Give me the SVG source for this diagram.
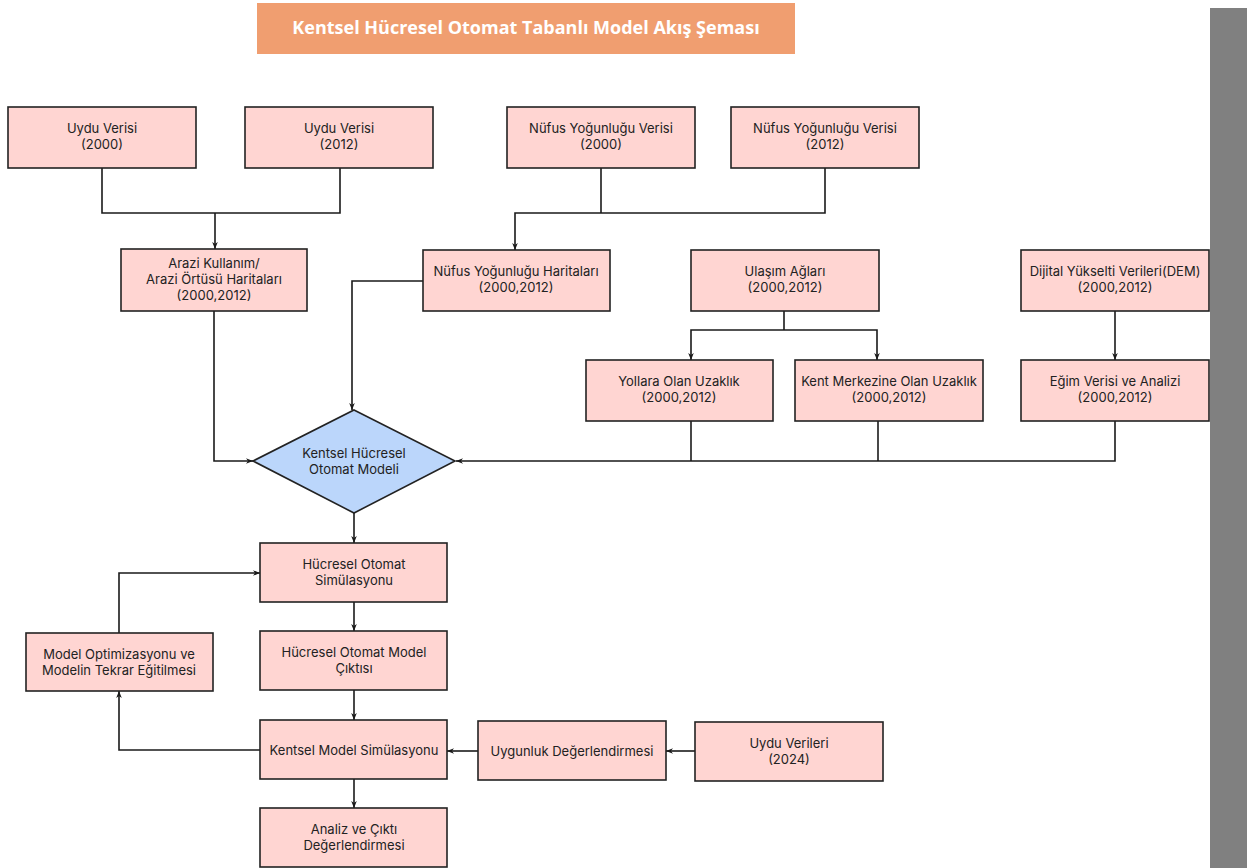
<svg xmlns="http://www.w3.org/2000/svg" width="1250" height="868" viewBox="0 0 1250 868">
<defs>
<marker id="arr" viewBox="0 0 10 10" refX="10" refY="5" markerWidth="7" markerHeight="7" markerUnits="userSpaceOnUse" orient="auto">
<path d="M0,1 L10,5 L0,9 L3,5 z" fill="#1a1a1a"/>
</marker>
<style>
.box{fill:#FFD5D2;stroke:#222;stroke-width:1.6}
.dia{fill:#BBD6FB;stroke:#222;stroke-width:1.6}
.t{font-family:Inter,"Liberation Sans",sans-serif;font-size:13px;fill:#222;text-anchor:middle}
.c{fill:none;stroke:#1a1a1a;stroke-width:1.6}
.a{marker-end:url(#arr)}
</style>
</defs>
<rect x="0" y="0" width="1250" height="868" fill="#fff"/>
<rect x="1210" y="8" width="37" height="860" fill="#808080"/>
<g id="title">
<rect x="257" y="3" width="538" height="51" fill="#F09E70"/>
<text x="526" y="34" font-family="'Open Sans','Noto Sans',sans-serif" font-weight="700" font-size="18" fill="#fff" text-anchor="middle">Kentsel Hücresel Otomat Tabanlı Model Akış Şeması</text>
</g>
<g id="connectors">
<path class="c" d="M102,168 V213 H340 V168"/>
<path class="c a" d="M215,213 V249"/>
<path class="c" d="M601,168 V213"/>
<path class="c a" d="M825,168 V213 H515 V250"/>
<path class="c a" d="M214,311 V461 H253"/>
<path class="c a" d="M423,281 H352 V410"/>
<path class="c" d="M784,311 V330"/>
<path class="c a" d="M784,330 H691 V360"/>
<path class="c a" d="M784,330 H877 V360"/>
<path class="c a" d="M1115,311 V360"/>
<path class="c a" d="M1115,421 V461 H456"/>
<path class="c" d="M691,421 V461"/>
<path class="c" d="M878,421 V461"/>
<path class="c a" d="M354,513 V543"/>
<path class="c a" d="M354,602 V631"/>
<path class="c a" d="M354,690 V720"/>
<path class="c a" d="M354,779 V808"/>
<path class="c a" d="M260,750 H119 V691"/>
<path class="c a" d="M119,633 V573 H260"/>
<path class="c a" d="M695,751 H666"/>
<path class="c a" d="M478,751 H447"/>
</g>
<g id="uydu2000"><rect class="box" x="8" y="107" width="188" height="61"/><text class="t" x="102" y="133">Uydu Verisi</text><text class="t" x="102" y="149">(2000)</text></g>
<g id="uydu2012"><rect class="box" x="245" y="107" width="188" height="61"/><text class="t" x="339" y="133">Uydu Verisi</text><text class="t" x="339" y="149">(2012)</text></g>
<g id="nufus2000"><rect class="box" x="507" y="107" width="188" height="61"/><text class="t" x="601" y="133">Nüfus Yoğunluğu Verisi</text><text class="t" x="601" y="149">(2000)</text></g>
<g id="nufus2012"><rect class="box" x="731" y="107" width="188" height="61"/><text class="t" x="825" y="133">Nüfus Yoğunluğu Verisi</text><text class="t" x="825" y="149">(2012)</text></g>
<g id="arazi"><rect class="box" x="121" y="249" width="186" height="62"/><text class="t" x="214" y="268">Arazi Kullanım/</text><text class="t" x="214" y="284">Arazi Örtüsü Haritaları</text><text class="t" x="214" y="300">(2000,2012)</text></g>
<g id="nufusharita"><rect class="box" x="423" y="250" width="187" height="61"/><text class="t" x="516" y="276">Nüfus Yoğunluğu Haritaları</text><text class="t" x="516" y="292">(2000,2012)</text></g>
<g id="ulasim"><rect class="box" x="691" y="250" width="188" height="61"/><text class="t" x="785" y="276">Ulaşım Ağları</text><text class="t" x="785" y="292">(2000,2012)</text></g>
<g id="dem"><rect class="box" x="1021" y="250" width="188" height="61"/><text class="t" x="1115" y="276">Dijital Yükselti Verileri(DEM)</text><text class="t" x="1115" y="292">(2000,2012)</text></g>
<g id="yollara"><rect class="box" x="586" y="360" width="187" height="61"/><text class="t" x="679" y="386">Yollara Olan Uzaklık</text><text class="t" x="679" y="402">(2000,2012)</text></g>
<g id="kentmerkez"><rect class="box" x="795" y="360" width="188" height="61"/><text class="t" x="889" y="386">Kent Merkezine Olan Uzaklık</text><text class="t" x="889" y="402">(2000,2012)</text></g>
<g id="egim"><rect class="box" x="1021" y="360" width="188" height="61"/><text class="t" x="1115" y="386">Eğim Verisi ve Analizi</text><text class="t" x="1115" y="402">(2000,2012)</text></g>
<g id="model"><polygon class="dia" points="354,410 455,461 354,513 253,461"/><text class="t" x="354" y="458">Kentsel Hücresel</text><text class="t" x="354" y="474">Otomat Modeli</text></g>
<g id="sim"><rect class="box" x="260" y="543" width="187" height="59"/><text class="t" x="354" y="569">Hücresel Otomat</text><text class="t" x="354" y="585">Simülasyonu</text></g>
<g id="cikti"><rect class="box" x="260" y="631" width="187" height="59"/><text class="t" x="354" y="657">Hücresel Otomat Model</text><text class="t" x="354" y="673">Çıktısı</text></g>
<g id="kentsim"><rect class="box" x="260" y="720" width="187" height="59"/><text class="t" x="354" y="755">Kentsel Model Simülasyonu</text></g>
<g id="analiz"><rect class="box" x="260" y="808" width="187" height="59"/><text class="t" x="354" y="834">Analiz ve Çıktı</text><text class="t" x="354" y="850">Değerlendirmesi</text></g>
<g id="optim"><rect class="box" x="26" y="633" width="187" height="58"/><text class="t" x="119" y="659">Model Optimizasyonu ve</text><text class="t" x="119" y="675">Modelin Tekrar Eğitilmesi</text></g>
<g id="uygunluk"><rect class="box" x="478" y="721" width="188" height="59"/><text class="t" x="572" y="756">Uygunluk Değerlendirmesi</text></g>
<g id="uydu2024"><rect class="box" x="695" y="722" width="188" height="59"/><text class="t" x="789" y="748">Uydu Verileri</text><text class="t" x="789" y="764">(2024)</text></g>
</svg>
